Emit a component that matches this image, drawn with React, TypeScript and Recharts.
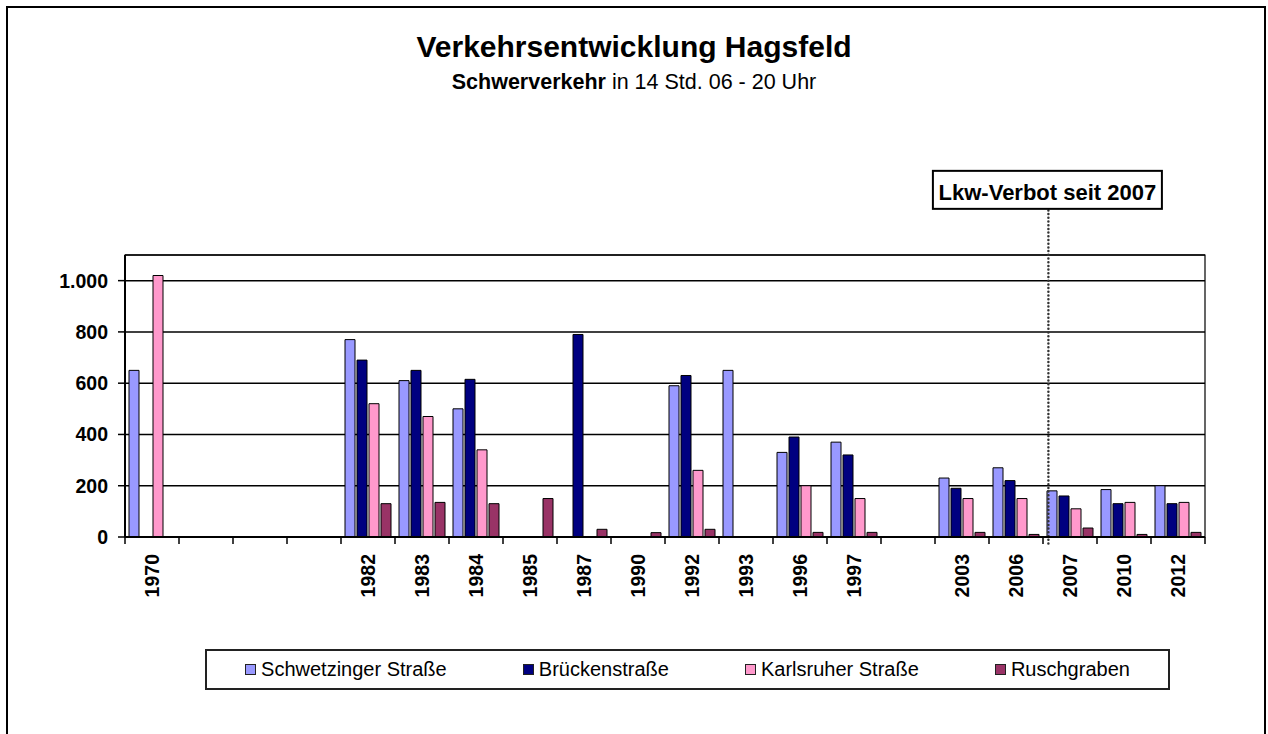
import React from 'react';
import {
  BarChart,
  Bar,
  XAxis,
  YAxis,
  CartesianGrid,
  ReferenceLine,
  ReferenceArea,
  Legend,
} from 'recharts';

// ---------- data ----------
const years = ['1970', '', '', '', '1982', '1983', '1984', '1985', '1987', '1990', '1992', '1993', '1996', '1997', '', '2003', '2006', '2007', '2010', '2012'];
const schwetzinger = [650, null, null, null, 770, 610, 500, null, null, null, 590, 650, 330, 370, null, 230, 270, 180, 185, 200];
const bruecken = [null, null, null, null, 690, 650, 615, null, 790, null, 630, null, 390, 320, null, 190, 220, 160, 130, 130];
const karlsruher = [1020, null, null, null, 520, 470, 340, null, null, null, 260, null, 200, 150, null, 150, 150, 110, 135, 135];
const ruschgraben = [null, null, null, null, 130, 135, 130, 150, 30, 17, 30, null, 18, 18, null, 18, 10, 35, 10, 18];
const yTicks = [0, 200, 400, 600, 800, 1000];
const seriesNames = ['Schwetzinger Straße', 'Brückenstraße', 'Karlsruher Straße', 'Ruschgraben'];
const seriesColors = ['#9999FF', '#000080', '#FF99CC', '#993366'];
const titleText = 'Verkehrsentwicklung Hagsfeld';
const subtitleBold = 'Schwerverkehr';
const subtitleRest = ' in 14 Std. 06 - 20 Uhr';
const annotationText = 'Lkw-Verbot seit 2007';
const banPosition = 17.1; // position along the category index scale (2007 band starts at 17)
const banLineRange = [-25, 1280]; // vertical extent in value units

const data = years.map((y, i) => ({
  cat: i,
  pos: i + 0.5,
  s0: schwetzinger[i],
  s1: bruecken[i],
  s2: karlsruher[i],
  s3: ruschgraben[i],
}));

const FONT = "'Liberation Sans', Arial, Helvetica, sans-serif";

const fmt = (v: number) =>
  v >= 1000 ? `${Math.floor(v / 1000)}.${String(v % 1000).padStart(3, '0')}` : String(v);

const XTick = (props: any) => {
  const { x, y, payload, index, visibleTicksCount, width } = props;
  const half = payload && payload.offset ? payload.offset : width / visibleTicksCount / 2;
  const label = years[payload.value] ?? '';
  return (
    <g>
      <line x1={x - half} y1={y} x2={x - half} y2={y + 7} stroke="#000" strokeWidth={1.5} />
      {index === visibleTicksCount - 1 && (
        <line x1={x + half} y1={y} x2={x + half} y2={y + 7} stroke="#000" strokeWidth={1.5} />
      )}
      <text
        transform={`translate(${x + 7},${y + 17}) rotate(-90)`}
        textAnchor="end"
        fontSize={19.5}
        fontWeight="bold"
        fontFamily={FONT}
        fill="#000"
      >
        {label}
      </text>
    </g>
  );
};

const BanLabel = (props: any) => {
  const vb = props.viewBox || {};
  const cx = vb.x != null ? vb.x + (vb.width || 0) / 2 : vb.x1;
  const top = vb.y != null ? vb.y : Math.min(vb.y1, vb.y2);
  const w = 229;
  const h = 38;
  return (
    <g>
      <rect x={cx - w / 2 - 1} y={top - h} width={w} height={h} fill="#fff" stroke="#000" strokeWidth={2} />
      <text x={cx - 1} y={top - 9} textAnchor="middle" fontSize={22} fontWeight="bold" fontFamily={FONT} fill="#000">
        {annotationText}
      </text>
    </g>
  );
};

const LegendBox = (props: any) => {
  const payload = [...(props.payload || [])].sort(
    (a: any, b: any) => seriesNames.indexOf(a.value) - seriesNames.indexOf(b.value)
  );
  return (
    <div
      style={{
        boxSizing: 'border-box',
        width: 965,
        height: 41,
        border: '2px solid #222',
        background: '#fff',
        display: 'flex',
        justifyContent: 'space-around',
        alignItems: 'center',
        fontFamily: FONT,
        fontSize: 20,
        color: '#000',
      }}
    >
      {payload.map((p: any) => (
        <div key={p.value} style={{ display: 'flex', alignItems: 'center', whiteSpace: 'nowrap' }}>
          <span
            style={{
              display: 'inline-block',
              boxSizing: 'border-box',
              width: 11,
              height: 11,
              background: p.color,
              border: '1px solid #222',
              marginRight: 5,
            }}
          />
          <span>{p.value}</span>
        </div>
      ))}
    </div>
  );
};

export default function App() {
  return (
    <div
      style={{
        position: 'absolute',
        left: 0,
        top: 0,
        width: 1268,
        height: 734,
        overflow: 'hidden',
        background: '#fff',
      }}
    >
      <div
        style={{
          position: 'absolute',
          left: 6,
          top: 6,
          width: 1260,
          height: 800,
          boxSizing: 'border-box',
          border: '2px solid #000',
        }}
      />
      <div
        style={{
          position: 'absolute',
          left: 0,
          top: 32,
          width: 1268,
          textAlign: 'center',
          fontFamily: FONT,
          fontWeight: 'bold',
          fontSize: 30,
          lineHeight: '30px',
          color: '#000',
        }}
      >
        {titleText}
      </div>
      <div
        style={{
          position: 'absolute',
          left: 0,
          top: 72,
          width: 1268,
          textAlign: 'center',
          fontFamily: FONT,
          fontSize: 21.5,
          lineHeight: '21.5px',
          color: '#000',
        }}
      >
        <b>{subtitleBold}</b>
        {subtitleRest}
      </div>
      <div style={{ position: 'absolute', left: 0, top: 0 }}>
        <BarChart
          width={1268}
          height={734}
          data={data}
          margin={{ top: 255, right: 63, bottom: 66, left: 0 }}
          barCategoryGap={4}
          barGap={2}
        >
          <CartesianGrid vertical={false} stroke="#000" strokeWidth={1.5} />
          <XAxis
            dataKey="cat"
            type="category"
            interval={0}
            tickLine={false}
            tickSize={0}
            tickMargin={0}
            height={90}
            axisLine={{ stroke: '#000', strokeWidth: 2 }}
            tick={<XTick />}
          />
          <XAxis
            xAxisId="pos"
            dataKey="pos"
            type="number"
            domain={[0, years.length]}
            allowDataOverflow
            hide
          />
          <YAxis
            domain={[0, 1100]}
            ticks={yTicks}
            interval={0}
            allowDataOverflow
            width={125}
            tickSize={7}
            tickMargin={10}
            tickFormatter={fmt}
            axisLine={{ stroke: '#000', strokeWidth: 2 }}
            tickLine={{ stroke: '#000', strokeWidth: 1.5 }}
            tick={{ fontSize: 19.5, fontWeight: 'bold', fill: '#000', fontFamily: FONT }}
          />
          <ReferenceArea y1={0} y2={1100} fill="none" stroke="#000" strokeWidth={1.2} ifOverflow="visible" />
          <Bar dataKey="s0" name={seriesNames[0]} fill={seriesColors[0]} stroke="#000" strokeWidth={1} isAnimationActive={false} />
          <Bar dataKey="s1" name={seriesNames[1]} fill={seriesColors[1]} stroke="#000" strokeWidth={1} isAnimationActive={false} />
          <Bar dataKey="s2" name={seriesNames[2]} fill={seriesColors[2]} stroke="#000" strokeWidth={1} isAnimationActive={false} />
          <Bar dataKey="s3" name={seriesNames[3]} fill={seriesColors[3]} stroke="#000" strokeWidth={1} isAnimationActive={false} />
          <ReferenceLine
            xAxisId="pos"
            segment={[
              { x: banPosition, y: banLineRange[0] },
              { x: banPosition, y: banLineRange[1] },
            ]}
            stroke="#333"
            strokeWidth={2.5}
            strokeDasharray="0 3.7"
            strokeLinecap="round"
            ifOverflow="visible"
            label={<BanLabel />}
          />
          <Legend
            content={<LegendBox />}
            height={41}
            width={965}
            wrapperStyle={{ left: 205, top: 649, width: 965, height: 41, bottom: 'auto' }}
          />
        </BarChart>
      </div>
    </div>
  );
}
